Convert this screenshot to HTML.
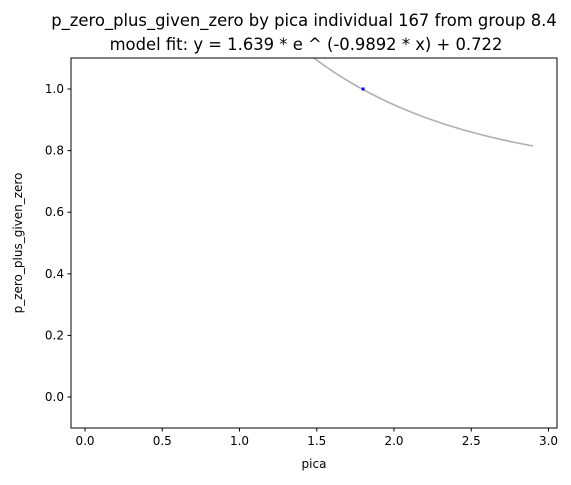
<!DOCTYPE html>
<html><head><meta charset="utf-8">
<style>
html,body{margin:0;padding:0;background:#fff;}
svg text{font-family:"DejaVu Sans","Liberation Sans",sans-serif;fill:#000;}
</style></head>
<body>
<svg id="chart" width="571" height="480" xmlns="http://www.w3.org/2000/svg">
<defs><clipPath id="clip"><rect x="71" y="58" width="486" height="370"/></clipPath></defs>
<text x="304" y="26" font-size="16.4" text-anchor="middle">p_zero_plus_given_zero by pica individual 167 from group 8.4</text>
<text x="306" y="50" font-size="16.4" text-anchor="middle">model fit: y = 1.639 * e ^ (-0.9892 * x) + 0.722</text>
<g id="plot" clip-path="url(#clip)"></g>
<rect x="71" y="58" width="486" height="370" fill="none" stroke="#000" stroke-width="1"/>
<g id="axes"></g>
<text x="314" y="468" font-size="12" text-anchor="middle">pica</text>
<text transform="translate(22,243) rotate(-90)" font-size="12" text-anchor="middle">p_zero_plus_given_zero</text>
</svg>
<script>
const xTicks = [0.0, 0.5, 1.0, 1.5, 2.0, 2.5, 3.0];
const yTicks = [0.0, 0.2, 0.4, 0.6, 0.8, 1.0];
const pointsX = [1.8];
const pointsY = [1.0];
const fitA = 1.639, fitB = -0.9892, fitC = 0.722;
const fitRange = [0, 2.9];

const NS = "http://www.w3.org/2000/svg";
function sx(v){ return 85 + v * 154.5; }
function sy(v){ return 397 - v * 308; }
const axes = document.getElementById('axes');
const plot = document.getElementById('plot');
function mk(tag, attrs, parent){ const e=document.createElementNS(NS,tag); for(const k in attrs) e.setAttribute(k,attrs[k]); parent.appendChild(e); return e; }

xTicks.forEach(t=>{
  const l = mk('line',{x1:sx(t),x2:sx(t),y1:428,y2:431.5,stroke:'#000'},axes);
  
  
  const tx = mk('text',{x:sx(t),y:445,'font-size':12,'text-anchor':'middle'},axes);
  tx.textContent = t.toFixed(1);
  
  
});
yTicks.forEach(t=>{
  const l = mk('line',{x1:67.5,x2:71,y1:sy(t),y2:sy(t),stroke:'#000'},axes);
  
  
  const tx = mk('text',{x:64,y:sy(t)+4,'font-size':12,'text-anchor':'end'},axes);
  tx.textContent = t.toFixed(1);
  
  
});

let d = '';
const N = 200;
for(let i=0;i<=N;i++){
  const x = fitRange[0] + (fitRange[1]-fitRange[0])*i/N;
  const y = fitA*Math.exp(fitB*x)+fitC;
  d += (i?'L':'M') + sx(x).toFixed(2) + ',' + sy(y).toFixed(2);
}
const fit = mk('path',{d:d,fill:'none',stroke:'#b0b0b0','stroke-width':1.6},plot);



pointsX.forEach((x,i)=>{
  const p = mk('rect',{x:sx(x)-1.5,y:sy(pointsY[i])-1.5,width:3,height:3,fill:'#0000ff'},plot);
  
  
});
</script>
</body></html>
